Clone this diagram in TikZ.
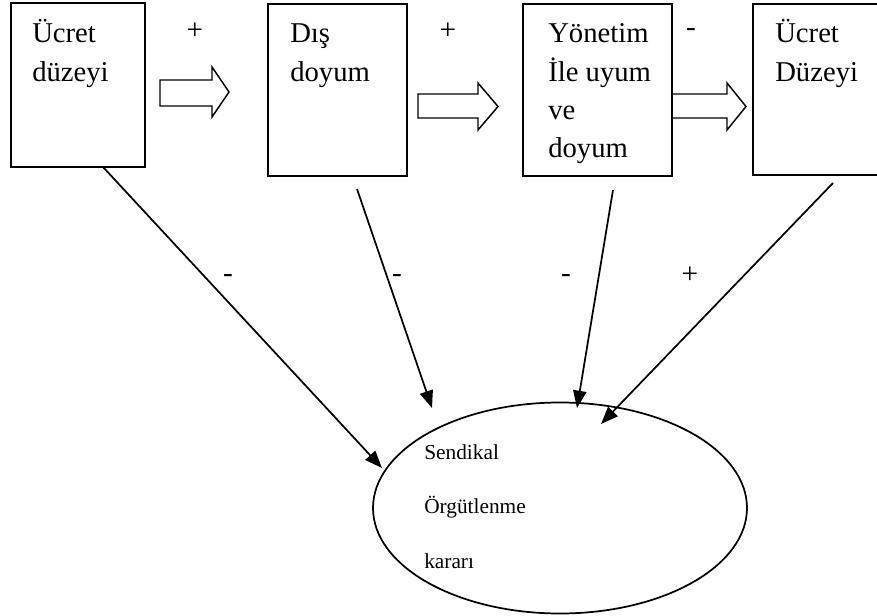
\documentclass[tikz,border=0pt]{standalone}
\usepackage{fontspec}
\setmainfont{Liberation Serif}
\usetikzlibrary{arrows.meta,shapes.geometric}
\begin{document}
\begin{tikzpicture}[x=0.75pt,y=-0.75pt,
  boxstyle/.style={draw,line width=1.5pt,inner sep=0pt},
  boxtext/.style={anchor=base west,inner sep=0pt,font=\fontsize{21.5}{25}\selectfont},
  elltext/.style={anchor=base west,inner sep=0pt,font=\fontsize{16}{19}\selectfont},
  signlabel/.style={inner sep=0pt,font=\fontsize{22}{25}\selectfont},
  blockarrow/.style={draw,line width=1.1pt,line join=miter},
  link/.style={line width=1.3pt,-{Triangle[length=13pt,width=10pt]}}]
\useasboundingbox (0,0) rectangle (877,616);
\fill[white] (0,0) rectangle (877,616);

% boxes
\node[boxstyle,minimum width=100.5pt,minimum height=123pt] (b1) at (78,85) {};
\node[boxstyle,minimum width=104.25pt,minimum height=129pt] (b2) at (337.5,90) {};
\node[boxstyle,minimum width=111.75pt,minimum height=129pt] (b3) at (597.5,90) {};
\node[boxstyle,minimum width=102.75pt,minimum height=128.25pt] (b4) at (821.5,89.5) {};

% box texts
\node[boxtext] (t1a) at (32,43) {Ücret};
\node[boxtext] (t1b) at (32,82) {düzeyi};
\node[boxtext] (t2a) at (290,43) {Dış};
\node[boxtext] (t2b) at (290,82) {doyum};
\node[boxtext] (t3a) at (548,43) {Yönetim};
\node[boxtext] (t3b) at (548,82) {İle uyum};
\node[boxtext] (t3c) at (548,120) {ve};
\node[boxtext] (t3d) at (548,158) {doyum};
\node[boxtext] (t4a) at (775,43) {Ücret};
\node[boxtext] (t4b) at (775,82) {Düzeyi};

% block arrows
\draw[blockarrow] (160,80) -- (212,80) -- (212,67) -- (229,92) -- (212,117) -- (212,106) -- (160,106) -- cycle;
\draw[blockarrow] (418,94) -- (478,94) -- (478,83) -- (498,106.5) -- (478,130) -- (478,118) -- (418,118) -- cycle;
\draw[blockarrow] (672,94) -- (727,94) -- (727,83) -- (746,106.5) -- (727,130) -- (727,118) -- (672,118) -- cycle;

% top signs
\node[signlabel] (p1) at (195,31) {+};
\node[signlabel] (p2) at (448,31) {+};
\node[signlabel] (m1) at (691,33) {-};

% ellipse
\node[draw,ellipse,line width=1.3pt,inner sep=0pt,minimum width=280.5pt,minimum height=158.25pt] (e) at (560,508) {};
\node[elltext] (e1) at (424,459) {Sendikal};
\node[elltext] (e2) at (424,513) {Örgütlenme};
\node[elltext] (e3) at (424,568) {kararı};

% connectors
\coordinate (s1) at (103,167);
\coordinate (s2) at (357,189);
\coordinate (s3) at (613,190);
\coordinate (s4) at (833,183);
\coordinate (f1) at (382,468);
\coordinate (f2) at (432,408);
\coordinate (f3) at (577,408);
\coordinate (f4) at (601,424);
\draw[link] (s1) -- (f1);
\draw[link] (s2) -- (f2);
\draw[link] (s3) -- (f3);
\draw[link] (s4) -- (f4);

% link signs
\node[signlabel] (l1) at (228,278) {-};
\node[signlabel] (l2) at (397,278) {-};
\node[signlabel] (l3) at (566,278) {-};
\node[signlabel] (l4) at (690,275) {+};
\end{tikzpicture}
\end{document}
